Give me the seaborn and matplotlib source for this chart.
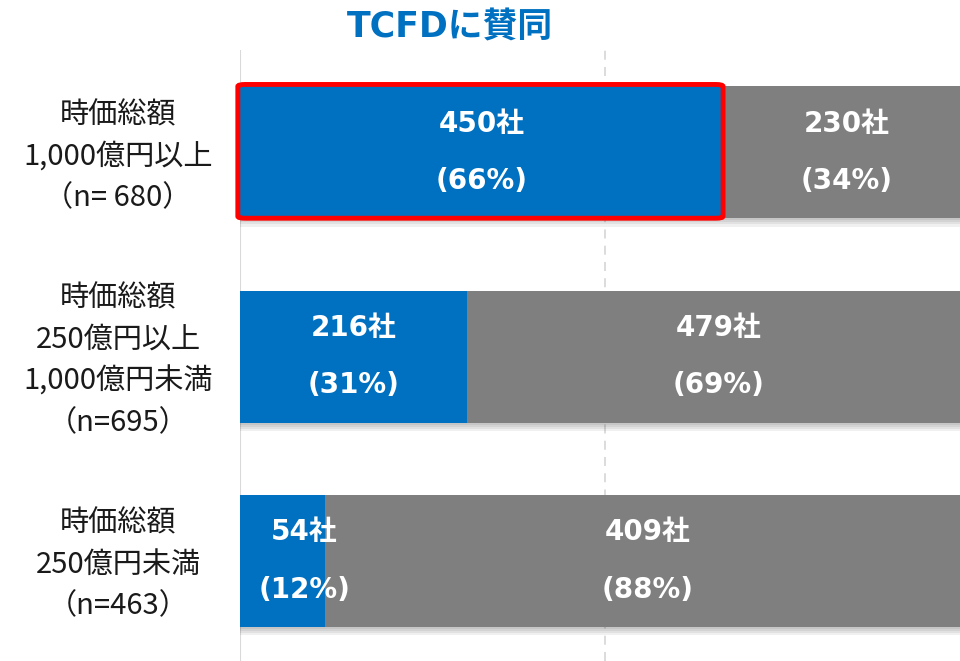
import pandas as pd
import seaborn as sns
import matplotlib.pyplot as plt
from matplotlib.patches import FancyBboxPatch
import matplotlib.patheffects as pe

groups = ['時価総額\n1,000億円以上\n（n= 680）',
          '時価総額\n250億円以上\n1,000億円未満\n（n=695）',
          '時価総額\n250億円未満\n（n=463）']
agree = [450, 216, 54]
other = [230, 479, 409]
agree_pct = [66, 31, 12]
other_pct = [34, 69, 88]
title = 'TCFDに賛同'

blue = '#0070C0'
gray = '#7F7F7F'
jp = ['Noto Sans CJK JP', 'DejaVu Sans']
num = ['DejaVu Sans', 'Noto Sans CJK JP']

sns.set_theme(style='white')
plt.rcParams['font.family'] = jp

df = pd.DataFrame({'group': groups, 'agree': agree, 'other': other})
df['n'] = df['agree'] + df['other']
df['agree_frac'] = df['agree'] / df['n']
df['total'] = 1.0

fig = plt.figure(figsize=(9.6, 6.61), dpi=100)
ax = fig.add_axes([0.25, 0.0, 0.7604, 0.924])

# soft shadow under each bar
shadow = [pe.withSimplePatchShadow(offset=(0, -k), shadow_rgbFace='#000000', alpha=0.06)
          for k in (1.5, 3, 4.5, 6)]
sns.barplot(data=df, x='total', y='group', color=gray, width=0.645, saturation=1,
            linewidth=0, ax=ax, zorder=2)
sns.barplot(data=df, x='agree_frac', y='group', color=blue, width=0.645, saturation=1,
            linewidth=0, ax=ax, zorder=3)
for p in ax.patches[:3]:
    p.set_path_effects(shadow + [pe.Normal()])

ax.set_xlim(0, 1)
ax.set_ylim(2.49, -0.5)
ax.axvline(0, color='#D9D9D9', lw=1.5, zorder=1)
ax.axvline(0.5, color='#D9D9D9', lw=1.3, ls=(0, (5, 4)), zorder=1)
for s in ax.spines.values():
    s.set_visible(False)
ax.set_xticks([])
ax.set_yticks([])
ax.set_xlabel('')
ax.set_ylabel('')

# red frame round the first blue segment
top_blue = ax.patches[3]
x0, y0 = top_blue.get_x(), top_blue.get_y()
w, h = top_blue.get_width(), top_blue.get_height()
ax.add_patch(FancyBboxPatch((x0 - 0.003, y0 - 0.01), w + 0.003, h + 0.01,
                            boxstyle='round,pad=0,rounding_size=0.01',
                            fill=False, ec='#FF0000', lw=3.5, zorder=5, clip_on=False))

nudge = {2: 0.03}
for i, row in df.iterrows():
    fa = row['agree_frac']
    xa = fa / 2 + nudge.get(i, 0)
    xo = fa + (1 - fa) / 2
    for xc, cnt, pct in [(xa, agree[i], agree_pct[i]), (xo, other[i], other_pct[i])]:
        ax.text(xc, i - 0.14, f'{cnt}社', ha='center', va='center', color='white',
                fontsize=20, fontweight='bold', family=num, zorder=6)
        ax.text(xc, i + 0.14, f'({pct}%)', ha='center', va='center', color='white',
                fontsize=20, fontweight='bold', family=num, zorder=6)
    ax.text(-0.167, i + 0.02, row['group'], ha='center', va='center', fontsize=21,
            linespacing=1.5, color='#1A1A1A', clip_on=False)

fig.text(450 / 960, 1 - 27 / 661, title, ha='center', va='center', color=blue,
         fontsize=25, fontweight='bold', family=num)

fig.savefig('out.png', dpi=100)
